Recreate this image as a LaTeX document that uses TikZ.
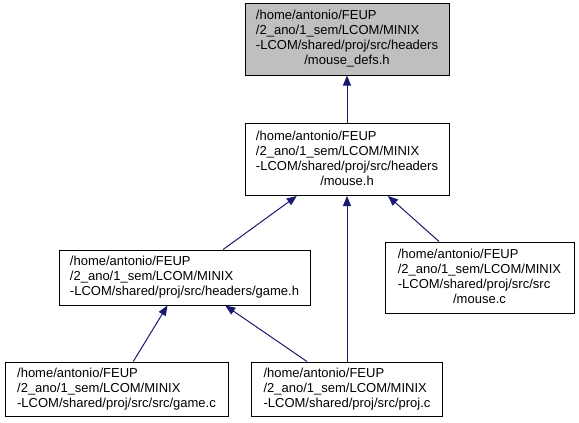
\documentclass[tikz,border=0pt]{standalone}
\usepackage{fontspec}
\setmainfont{Liberation Sans}
\usetikzlibrary{arrows.meta}
\definecolor{edgeblue}{RGB}{25,25,112}
\definecolor{hlgray}{RGB}{191,191,191}
\begin{document}
\begin{tikzpicture}[x=1pt,y=-1pt,
  box/.style={draw=black, line width=1pt, inner sep=0pt, fill=white, font=\fontsize{13}{15}\selectfont},
  edge/.style={draw=edgeblue, line width=1pt, -{Triangle[length=10pt,width=8pt]}},
]
\useasboundingbox (0,0) rectangle (579,423);
\node[box, fill=hlgray, minimum width=204pt, minimum height=72pt] (top) at (347,39)
  {\begin{tabular}{@{}l@{}}/home/antonio/FEUP\\/2\_ano/1\_sem/LCOM/MINIX\\-LCOM/shared/proj/src/headers\\\multicolumn{1}{@{}c@{}}{/mouse\_defs.h}\end{tabular}};
\node[box, minimum width=204pt, minimum height=72pt] (mouseh) at (347,159.5)
  {\begin{tabular}{@{}l@{}}/home/antonio/FEUP\\/2\_ano/1\_sem/LCOM/MINIX\\-LCOM/shared/proj/src/headers\\\multicolumn{1}{@{}c@{}}{/mouse.h}\end{tabular}};
\node[box, minimum width=251pt, minimum height=55pt] (gameh) at (184.5,277.5)
  {\begin{tabular}{@{}l@{}}/home/antonio/FEUP\\/2\_ano/1\_sem/LCOM/MINIX\\-LCOM/shared/proj/src/headers/game.h\end{tabular}};
\node[box, minimum width=189pt, minimum height=71pt] (mousec) at (479.5,277.5)
  {\begin{tabular}{@{}l@{}}/home/antonio/FEUP\\/2\_ano/1\_sem/LCOM/MINIX\\-LCOM/shared/proj/src/src\\\multicolumn{1}{@{}c@{}}{/mouse.c}\end{tabular}};
\node[box, minimum width=223pt, minimum height=54pt] (gamec) at (116.5,389)
  {\begin{tabular}{@{}l@{}}/home/antonio/FEUP\\/2\_ano/1\_sem/LCOM/MINIX\\-LCOM/shared/proj/src/src/game.c\end{tabular}};
\node[box, minimum width=191pt, minimum height=54pt] (projc) at (347,389)
  {\begin{tabular}{@{}l@{}}/home/antonio/FEUP\\/2\_ano/1\_sem/LCOM/MINIX\\-LCOM/shared/proj/src/proj.c\end{tabular}};
\draw[edge] (mouseh) -- (top);
\draw[edge] (gameh) -- (mouseh);
\draw[edge] (projc) -- (mouseh);
\draw[edge] (mousec) -- (mouseh);
\draw[edge] (gamec) -- (gameh);
\draw[edge] (projc) -- (gameh);
\end{tikzpicture}
\end{document}
